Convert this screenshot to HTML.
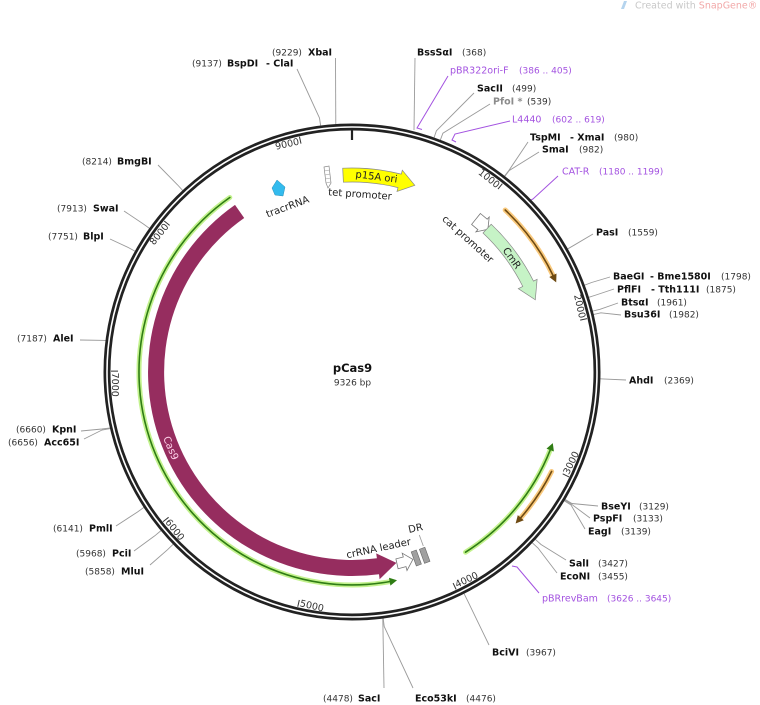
<!DOCTYPE html>
<html><head><meta charset="utf-8"><style>
html,body{margin:0;padding:0;background:#fff;}
svg{display:block;}
text{font-family:"DejaVu Sans","Liberation Sans",sans-serif;}
.b{font-weight:bold;font-size:9.5px;fill:#111;}
.n{font-size:9px;fill:#333;}
.p{font-size:9.5px;fill:#a352e0;}
.pn{font-size:9px;fill:#a352e0;}
.t{font-size:9.5px;fill:#333;}
.f{font-size:10px;fill:#222;}
</style></head><body>
<svg width="760" height="705" viewBox="0 0 760 705" xmlns="http://www.w3.org/2000/svg">
<rect width="760" height="705" fill="#fff"/>

<!-- watermark -->
<path d="M621,9 L624,1 L627,1 L624,9 Z" fill="#b5d4ee"/>
<text x="635" y="8.5" style="font-size:9.5px;fill:#c8c8c8">Created with <tspan style="fill:#f2a8a8">SnapGene®</tspan></text>

<!-- site lines -->
<g fill="none" stroke="#9a9a9a" stroke-width="0.9">
<polyline points="335.8,124.5 335.5,58"/>
<polyline points="320.6,125.5 319.5,118 297,69"/>
<polyline points="414,130 415,58"/>
<polyline points="433.8,138.4 436.4,130.8 474,93"/>
<polyline points="440.1,140.7 442.9,133.2 490,104"/>
<polyline points="504.1,176.6 509,170.3 528,142"/>
<polyline points="504.4,176.8 509.3,170.5 539,152"/>
<polyline points="567.2,249.2 574.1,245.2 593,234"/>
<polyline points="584.2,285.3 591.6,282.5 610,277"/>
<polyline points="588.4,297.4 596,295 614,289"/>
<polyline points="592.3,311.2 600,309.3 618,303"/>
<polyline points="593.2,314.6 600.9,312.8 621,315"/>
<polyline points="599.9,378.8 626,380"/>
<polyline points="565.1,499.4 571.9,503.5 598,506"/>
<polyline points="564.7,500 571.5,504.2 590,518"/>
<polyline points="564.2,500.8 571,505 585,529"/>
<polyline points="535.4,539.4 541,544.5 566,560"/>
<polyline points="532.3,542.8 538,548 557,573"/>
<polyline points="464.1,593.7 467.7,600.9 489,645"/>
<polyline points="382.8,618.6 384,688"/>
<polyline points="383.2,618.5 384.2,626.5 413,688"/>
<polyline points="183.1,190.9 177.7,185 158,165"/>
<polyline points="150,228.7 143.4,224 124,211"/>
<polyline points="135.5,251.5 128.5,247.6 110,239"/>
<polyline points="106.1,340.4 80,340"/>
<polyline points="110.3,427.9 102,429 81,431"/>
<polyline points="110.4,428.5 102,430 84,439"/>
<polyline points="143.9,507.4 137.5,512 116,526"/>
<polyline points="161,530.6 154.8,535.8 134,551"/>
<polyline points="173.1,544.3 167.4,549.8 150,565"/>
</g>
<!-- primer lines -->
<g fill="none" stroke="#a352e0" stroke-width="1">
<polyline points="448,76 417,128 422,129.5"/>
<polyline points="510,121 455,134 452,140 456,142"/>
<polyline points="558,176 533,199 527,202 527,205"/>
<polyline points="539,593 517,567 512,566"/>
</g>

<!-- backbone ring -->
<circle cx="352" cy="372" r="245" fill="none" stroke="#222" stroke-width="7"/>
<circle cx="352" cy="372" r="245" fill="none" stroke="#fff" stroke-width="1.6"/>
<line x1="352" y1="129" x2="352" y2="140" stroke="#222" stroke-width="2.2"/>

<!-- ticks -->
<g stroke="#333" stroke-width="1">
<line x1="352" y1="131" x2="352" y2="138" transform="rotate(38.6 352 372)"/>
<line x1="352" y1="131" x2="352" y2="138" transform="rotate(77.2 352 372)"/>
<line x1="352" y1="131" x2="352" y2="138" transform="rotate(-51.19 352 372)"/>
<line x1="352" y1="131" x2="352" y2="138" transform="rotate(-12.59 352 372)"/>
<line x1="352" y1="613" x2="352" y2="606" transform="rotate(-64.2 352 372)"/>
<line x1="352" y1="613" x2="352" y2="606" transform="rotate(-25.59 352 372)"/>
<line x1="352" y1="613" x2="352" y2="606" transform="rotate(13.01 352 372)"/>
<line x1="352" y1="613" x2="352" y2="606" transform="rotate(51.61 352 372)"/>
<line x1="352" y1="613" x2="352" y2="606" transform="rotate(90.21 352 372)"/>
</g>
<g class="t">
<text x="350.5" y="138.5" text-anchor="end" transform="rotate(38.6 352 372)" class="t">1000</text>
<text x="350.5" y="138.5" text-anchor="end" transform="rotate(77.2 352 372)" class="t">2000</text>
<text x="350.5" y="138.5" text-anchor="end" transform="rotate(-51.19 352 372)" class="t">8000</text>
<text x="350.5" y="138.5" text-anchor="end" transform="rotate(-12.59 352 372)" class="t">9000</text>
<text x="353.5" y="612" transform="rotate(-64.2 352 372)" class="t">3000</text>
<text x="353.5" y="612" transform="rotate(-25.59 352 372)" class="t">4000</text>
<text x="353.5" y="612" transform="rotate(13.01 352 372)" class="t">5000</text>
<text x="353.5" y="612" transform="rotate(51.61 352 372)" class="t">6000</text>
<text x="353.5" y="612" transform="rotate(90.21 352 372)" class="t">7000</text>
</g>

<!-- green lines -->
<g fill="none" stroke-linecap="round">
<path d="M229.8,197.5 A213 213 0 0 0 390.8,581.4" stroke="#b9f07a" stroke-width="5" opacity="0.85"/>
<path d="M229.8,197.5 A213 213 0 0 0 390.8,581.4" stroke="#2f7d14" stroke-width="1.6"/>
<path d="M465.5,552.2 A213 213 0 0 0 550.2,450.1" stroke="#b9f07a" stroke-width="5" opacity="0.85"/>
<path d="M465.5,552.2 A213 213 0 0 0 550.2,450.1" stroke="#2f7d14" stroke-width="1.6"/>
<path d="M505.2,210 A223 223 0 0 1 553.3,276" stroke="#f8bf66" stroke-width="5" opacity="0.85"/>
<path d="M505.2,210 A223 223 0 0 1 553.3,276" stroke="#6e4a12" stroke-width="1.6"/>
<path d="M551.6,471.5 A223 223 0 0 1 520.3,518.3" stroke="#f8bf66" stroke-width="5" opacity="0.85"/>
<path d="M551.6,471.5 A223 223 0 0 1 520.3,518.3" stroke="#6e4a12" stroke-width="1.6"/>
</g>
<polygon points="397,580.2 389,577.7 390.4,585.6" fill="#2f7d14"/>
<polygon points="552.8,443.1 546.5,448.6 553.9,451.5" fill="#2f7d14"/>
<polygon points="556.2,282.4 549.3,277 556.5,273.5" fill="#6e4a12"/>
<polygon points="515.6,523.5 517.8,515.1 523.8,520.3" fill="#6e4a12"/>

<!-- Cas9 -->
<path d="M235,204.9 A204 204 0 0 0 379,574.2 L379.6,579.2 L396.4,562.9 L376.2,553.4 L376.9,558.3 A188 188 0 0 1 244.2,218 Z" fill="#962d5f"/>
<text x="0" y="3.5" text-anchor="middle" transform="translate(171 448) rotate(67)" style="font-size:10px;fill:#ffd3ea">Cas9</text>

<!-- p15A ori -->
<path d="M342.7,168.2 A204 204 0 0 1 401.3,174.1 L402.3,170.2 L414.8,185.3 L397,191.5 L398,187.6 A190 190 0 0 0 343.4,182.2 Z" fill="#ffff00" stroke="#888" stroke-width="0.7"/>
<text x="0" y="3.5" text-anchor="middle" transform="translate(376.5 176.5) rotate(7)" class="f">p15A ori</text>

<!-- tet promoter -->
<polygon points="324,167 329,166 331,183 328,188 326,183" fill="#fff" stroke="#888" stroke-width="0.7"/>
<g stroke="#999" stroke-width="0.6"><line x1="324.5" y1="171" x2="329.5" y2="170"/><line x1="325" y1="175" x2="330" y2="174"/><line x1="325.5" y1="179" x2="330.5" y2="178"/><line x1="326" y1="183" x2="330.5" y2="182"/></g>
<text x="0" y="3.5" text-anchor="middle" transform="translate(360 194) rotate(4)" class="f">tet promoter</text>

<!-- tracrRNA -->
<polygon points="272,188 277,180 285,187 283,196 275,195" fill="#33bbee" stroke="#2a8fb8" stroke-width="0.5"/>
<text x="0" y="3.5" text-anchor="middle" transform="translate(287.5 206.5) rotate(-20)" class="f">tracrRNA</text>

<!-- cat promoter & CmR -->
<polygon points="480.4,213.5 487.2,219.2 489.2,217 487.9,229.3 475.9,231.9 477.9,229.7 471.6,224.4" fill="#fff" stroke="#777" stroke-width="0.8"/>
<text x="0" y="3.5" text-anchor="middle" transform="translate(468 239) rotate(42)" class="f">cat promoter</text>
<path d="M491.2,224.3 A203 203 0 0 1 533.5,281.1 L537.1,279.3 L535.3,299.8 L518.3,288.7 L522.8,286.5 A191 191 0 0 0 483,233 Z" fill="#c6f3c6" stroke="#888" stroke-width="0.7"/>
<text x="0" y="3.5" text-anchor="middle" transform="translate(512 258) rotate(54.5)" class="f">CmR</text>

<!-- crRNA leader & DR -->
<polygon points="398.1,568.7 406,566.6 407,570.5 412.9,559.4 402.2,553.2 403.3,557 395.9,558.9" fill="#fff" stroke="#777" stroke-width="0.8"/>
<text x="0" y="3.5" text-anchor="middle" transform="translate(378.5 548) rotate(-12)" class="f">crRNA leader</text>
<rect x="-2.7" y="-7.5" width="5.4" height="15" fill="#a0a0a0" stroke="#666" stroke-width="0.6" transform="translate(416.3 558) rotate(-20)"/>
<rect x="-2.9" y="-7.5" width="5.8" height="15" fill="#a0a0a0" stroke="#666" stroke-width="0.6" transform="translate(424.7 555.3) rotate(-20)"/>
<line x1="419.3" y1="535" x2="423.3" y2="546" stroke="#999" stroke-width="0.8"/>
<text x="0" y="3.5" text-anchor="middle" transform="translate(415.5 528) rotate(-12)" class="f">DR</text>

<!-- center -->
<text x="352.5" y="372" text-anchor="middle" style="font-size:11.5px;font-weight:bold;fill:#111">pCas9</text>
<text x="352.5" y="385.5" text-anchor="middle" style="font-size:9px;fill:#333">9326 bp</text>

<!-- labels -->
<text x="272" y="55.5" class="n">(9229)</text><text x="308" y="55.5" class="b">XbaI</text>
<text x="192" y="66.5" class="n">(9137)</text><text x="227" y="66.5" class="b">BspDI</text><text x="266" y="66.5" class="b">- ClaI</text>
<text x="417" y="55.5" class="b">BssSαI</text><text x="462" y="55.5" class="n">(368)</text>
<text x="450" y="73.5" class="p">pBR322ori-F</text><text x="519" y="73.5" class="pn">(386 .. 405)</text>
<text x="477" y="91.5" class="b">SacII</text><text x="512" y="91.5" class="n">(499)</text>
<text x="493" y="104.5" class="b" style="fill:#8c8c8c">PfoI *</text><text x="527" y="104.5" class="n">(539)</text>
<text x="512" y="122.5" class="p">L4440</text><text x="552" y="122.5" class="pn">(602 .. 619)</text>
<text x="530" y="140.5" class="b">TspMI</text><text x="570" y="140.5" class="b">- XmaI</text><text x="614" y="140.5" class="n">(980)</text>
<text x="542" y="152.5" class="b">SmaI</text><text x="579" y="152.5" class="n">(982)</text>
<text x="562" y="174.5" class="p">CAT-R</text><text x="599" y="174.5" class="pn">(1180 .. 1199)</text>
<text x="596" y="235.5" class="b">PasI</text><text x="628" y="235.5" class="n">(1559)</text>
<text x="613" y="279.5" class="b">BaeGI</text><text x="650" y="279.5" class="b">- Bme1580I</text><text x="721" y="279.5" class="n">(1798)</text>
<text x="617" y="292.5" class="b">PflFI</text><text x="651" y="292.5" class="b">- Tth111I</text><text x="706" y="292.5" class="n">(1875)</text>
<text x="621" y="305.5" class="b">BtsαI</text><text x="657" y="305.5" class="n">(1961)</text>
<text x="624" y="317.5" class="b">Bsu36I</text><text x="669" y="317.5" class="n">(1982)</text>
<text x="629" y="383.5" class="b">AhdI</text><text x="664" y="383.5" class="n">(2369)</text>
<text x="601" y="509.5" class="b">BseYI</text><text x="639" y="509.5" class="n">(3129)</text>
<text x="593" y="521.5" class="b">PspFI</text><text x="633" y="521.5" class="n">(3133)</text>
<text x="588" y="534.5" class="b">EagI</text><text x="621" y="534.5" class="n">(3139)</text>
<text x="569" y="566.5" class="b">SalI</text><text x="598" y="566.5" class="n">(3427)</text>
<text x="560" y="579.5" class="b">EcoNI</text><text x="598" y="579.5" class="n">(3455)</text>
<text x="542" y="601.5" class="p">pBRrevBam</text><text x="607" y="601.5" class="pn">(3626 .. 3645)</text>
<text x="492" y="655.5" class="b">BciVI</text><text x="526" y="655.5" class="n">(3967)</text>
<text x="323" y="701.5" class="n">(4478)</text><text x="358" y="701.5" class="b">SacI</text>
<text x="415" y="701.5" class="b">Eco53kI</text><text x="466" y="701.5" class="n">(4476)</text>
<text x="82" y="164.5" class="n">(8214)</text><text x="117" y="164.5" class="b">BmgBI</text>
<text x="57" y="211.5" class="n">(7913)</text><text x="93" y="211.5" class="b">SwaI</text>
<text x="48" y="239.5" class="n">(7751)</text><text x="83" y="239.5" class="b">BlpI</text>
<text x="17" y="341.5" class="n">(7187)</text><text x="53" y="341.5" class="b">AleI</text>
<text x="16" y="432.5" class="n">(6660)</text><text x="52" y="432.5" class="b">KpnI</text>
<text x="8" y="445.5" class="n">(6656)</text><text x="44" y="445.5" class="b">Acc65I</text>
<text x="53" y="531.5" class="n">(6141)</text><text x="89" y="531.5" class="b">PmlI</text>
<text x="76" y="556.5" class="n">(5968)</text><text x="112" y="556.5" class="b">PciI</text>
<text x="85" y="574.5" class="n">(5858)</text><text x="121" y="574.5" class="b">MluI</text>
</svg>
</body></html>
